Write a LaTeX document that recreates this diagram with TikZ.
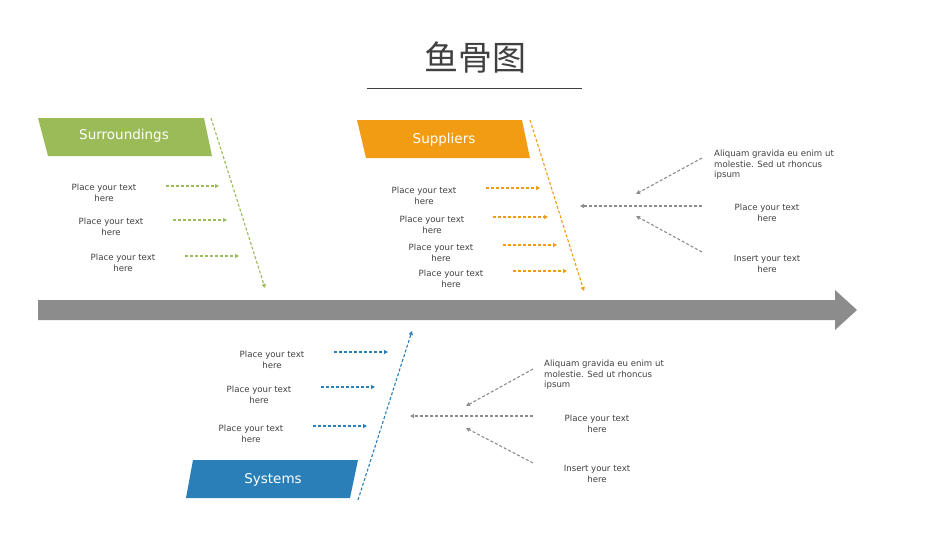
\documentclass[tikz,border=0pt]{standalone}
\usepackage{fontspec}
\setmainfont{DejaVu Sans}
\newfontfamily\cjk{Noto Sans CJK SC}
\usetikzlibrary{arrows.meta}
\definecolor{cg}{HTML}{9BBB59}
\definecolor{co}{HTML}{F29C14}
\definecolor{cb}{HTML}{2A7FB8}
\definecolor{cgr}{HTML}{8C8C8C}
\definecolor{ct}{HTML}{404040}
\begin{document}
\begin{tikzpicture}[x=1pt,y=-1pt,
  lbl/.style={font=\fontsize{8.6}{10.5}\selectfont,text=ct,align=center,inner sep=0},
  lbll/.style={font=\fontsize{8.6}{10.5}\selectfont,text=ct,align=left,inner sep=0,anchor=north west},
  da/.style={dashed,line width=1.1pt,dash pattern=on 3pt off 2pt,-{Triangle[length=4pt,width=4pt]}},
  captxt/.style={font=\fontsize{13.5}{16}\selectfont,text=white}]
\useasboundingbox (0,0) rectangle (950,535);
\node[font=\cjk\fontsize{34}{40}\selectfont,text=ct] (title) at (475,58) {鱼骨图};
\draw[ct,line width=0.6pt] (367,88) -- (582,88);
\fill[cgr] (38,300) -- (835,300) -- (835,290) -- (857,310) -- (835,330) -- (835,320) -- (38,320) -- cycle;
% Surroundings
\fill[cg] (38,118) -- (204,118) -- (212,156) -- (48,156) -- cycle;
\node[captxt] (s1) at (124,136) {Surroundings};
\coordinate (g0) at (211,118); \coordinate (g1) at (265,288);
\draw[da,cg] (g0) -- (g1);
\foreach \i/\a/\b/\y/\tx in {1/166/219/186/104,2/173/227/220/111,3/185/239/256/123}{
  \coordinate (ga\i) at (\a,\y); \coordinate (gb\i) at (\b,\y);
  \draw[da,cg] (ga\i) -- (gb\i);
  \node[lbl] (gt\i) at (\tx,\y+7) {Place your text\\here};}
% Suppliers
\fill[co] (357,120) -- (522,120) -- (530,158) -- (366,158) -- cycle;
\node[captxt] (s2) at (444,140) {Suppliers};
\coordinate (o0) at (530,120); \coordinate (o1) at (584,291);
\draw[da,co] (o0) -- (o1);
\foreach \i/\a/\b/\y/\tx in {1/486/540/188/424,2/493/548/217/432,3/503/557/245/441,4/513/567/271/451}{
  \coordinate (oa\i) at (\a,\y); \coordinate (ob\i) at (\b,\y);
  \draw[da,co] (oa\i) -- (ob\i);
  \node[lbl] (ot\i) at (\tx,\y+8) {Place your text\\here};}
% Systems
\fill[cb] (193,460) -- (358,460) -- (350,498) -- (186,498) -- cycle;
\node[captxt] (s3) at (273,480) {Systems};
\coordinate (b0) at (358,500); \coordinate (b1) at (412,331);
\draw[da,cb] (b0) -- (b1);
\foreach \i/\a/\b/\y/\tx in {1/334/388/352/272,2/321/375/387/259,3/313/367/426/251}{
  \coordinate (ba\i) at (\a,\y); \coordinate (bb\i) at (\b,\y);
  \draw[da,cb] (ba\i) -- (bb\i);
  \node[lbl] (bt\i) at (\tx,\y+8) {Place your text\\here};}
% gray upper
\coordinate (u1a) at (702,158); \coordinate (u1b) at (636,194);
\coordinate (u2a) at (702,206); \coordinate (u2b) at (580,206);
\coordinate (u3a) at (702,252); \coordinate (u3b) at (636,216);
\draw[da,cgr] (u1a) -- (u1b); \draw[da,cgr] (u2a) -- (u2b); \draw[da,cgr] (u3a) -- (u3b);
\node[lbll] (ut1) at (714,150) {Aliquam gravida eu enim ut\\molestie. Sed ut rhoncus\\ipsum};
\node[lbl] (ut2) at (767,213) {Place your text\\here};
\node[lbl] (ut3) at (767,264) {Insert your text\\here};
% gray lower
\coordinate (l1a) at (533,369); \coordinate (l1b) at (466,406);
\coordinate (l2a) at (533,416); \coordinate (l2b) at (410,416);
\coordinate (l3a) at (533,463); \coordinate (l3b) at (466,428);
\draw[da,cgr] (l1a) -- (l1b); \draw[da,cgr] (l2a) -- (l2b); \draw[da,cgr] (l3a) -- (l3b);
\node[lbll] (lt1) at (544,360) {Aliquam gravida eu enim ut\\molestie. Sed ut rhoncus\\ipsum};
\node[lbl] (lt2) at (597,424) {Place your text\\here};
\node[lbl] (lt3) at (597,474) {Insert your text\\here};
\end{tikzpicture}
\end{document}
